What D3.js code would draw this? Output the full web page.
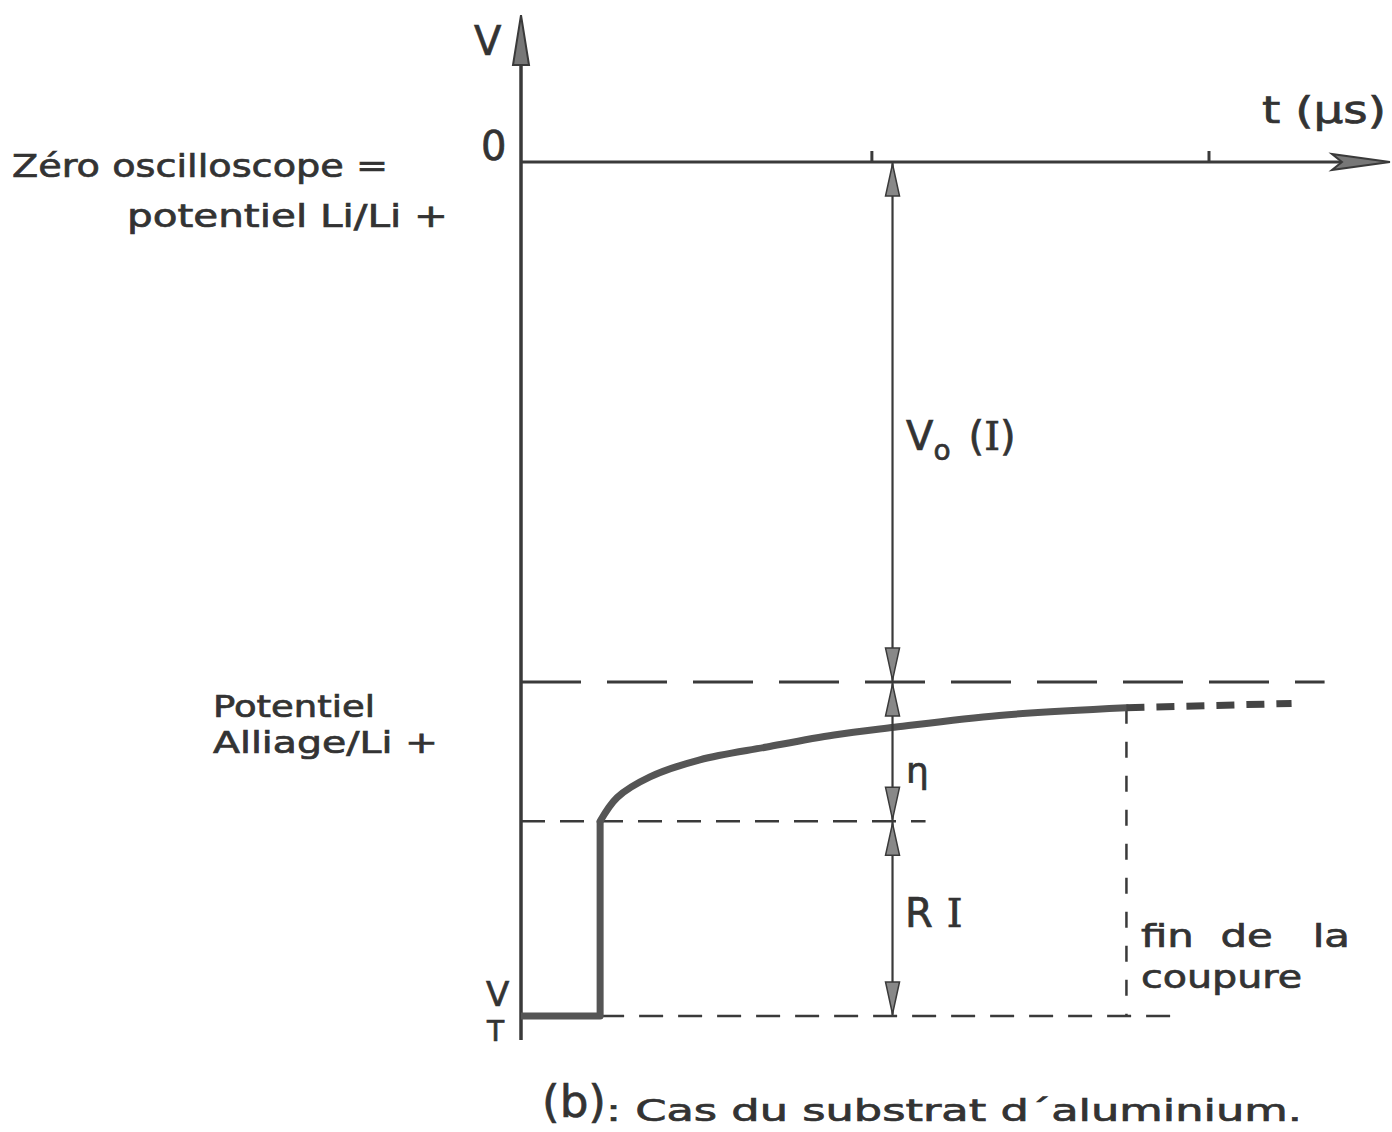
<!DOCTYPE html>
<html>
<head>
<meta charset="utf-8">
<script src="https://cdn.jsdelivr.net/npm/d3@7"></script>
<style>
  body { margin: 0; background: #fff; }
  svg text { font-family: "DejaVu Sans", sans-serif; fill: #333; stroke: #333; stroke-width: 0.7px; white-space: pre; }
</style>
</head>
<body>
<script>
// t in arbitrary units (ticks at 1 and 2), V normalised so that V_T = -1
var xTicks = [1.02, 2.0];
var stepT = [0, 0.23, 0.23];
var stepV = [-1, -1, -0.772];
var curveT = [0.23, 0.28, 0.375, 0.52, 0.715, 0.91, 1.085, 1.39, 1.76];
var curveV = [-0.772, -0.744, -0.72, -0.70, -0.685, -0.671, -0.662, -0.648, -0.639];
var tailT = [1.76, 2.24];
var tailV = [-0.639, -0.634];
var levelV0 = -0.609, levelRI = -0.772, levelVT = -1;
var tMeasure = 1.08, tCut = 1.76;

var width = 1392, height = 1132;
var x = d3.scaleLinear().domain([0, 1]).range([521, 865]);
var y = d3.scaleLinear().domain([0, -1]).range([162, 1016]);

var svg = d3.select("body").append("svg")
	.attr("width", width)
	.attr("height", height);

var ink = "#3a3a3a";

function zip(a, b) { return a.map(function(d, i) { return [d, b[i]]; }); }
var line = d3.line().x(function(d) { return x(d[0]); }).y(function(d) { return y(d[1]); });

// axes
svg.append("line").attr("x1", x(0)).attr("x2", x(0)).attr("y1", y(0.12)).attr("y2", y(-1.028))
	.attr("stroke", ink).attr("stroke-width", 3.5);
svg.append("line").attr("x1", x(0)).attr("x2", x(2.42)).attr("y1", y(0)).attr("y2", y(0))
	.attr("stroke", ink).attr("stroke-width", 3);
// y arrow head
svg.append("path")
	.attr("d", "M" + x(0) + "," + y(0.172) + " L" + (x(0) + 8) + "," + (y(0.172) + 50) + " L" + (x(0) - 8) + "," + (y(0.172) + 50) + "Z")
	.attr("fill", "#777").attr("stroke", ink).attr("stroke-width", 2);
// x arrow head
var xe = x(2.526);
svg.append("path")
	.attr("d", "M" + xe + "," + y(0) + " L" + (xe - 58) + "," + (y(0) - 8) + " L" + (xe - 48) + "," + y(0) + " L" + (xe - 58) + "," + (y(0) + 8) + "Z")
	.attr("fill", "#777").attr("stroke", ink).attr("stroke-width", 2);
// ticks
svg.selectAll(".tick").data(xTicks).enter().append("line")
	.attr("x1", function(d) { return x(d); }).attr("x2", function(d) { return x(d); })
	.attr("y1", y(0)).attr("y2", y(0) - 11)
	.attr("stroke", ink).attr("stroke-width", 3);

// dashed levels
svg.append("line").attr("x1", x(0)).attr("x2", x(2.336)).attr("y1", y(levelV0)).attr("y2", y(levelV0))
	.attr("stroke", ink).attr("stroke-width", 3).attr("stroke-dasharray", "60,26");
svg.append("line").attr("x1", x(0)).attr("x2", x(1.176)).attr("y1", y(levelRI)).attr("y2", y(levelRI))
	.attr("stroke", ink).attr("stroke-width", 2.5).attr("stroke-dasharray", "24,15");
svg.append("line").attr("x1", x(stepT[1])).attr("x2", x(1.927)).attr("y1", y(levelVT)).attr("y2", y(levelVT))
	.attr("stroke", ink).attr("stroke-width", 2.5).attr("stroke-dasharray", "24,15");
svg.append("line").attr("x1", x(tCut)).attr("x2", x(tCut)).attr("y1", y(tailV[0])).attr("y2", y(levelVT))
	.attr("stroke", ink).attr("stroke-width", 2.5).attr("stroke-dasharray", "16,18");

// potential trace
svg.append("path").attr("d", line(zip(stepT, stepV)))
	.attr("fill", "none").attr("stroke", "#555").attr("stroke-width", 7).attr("stroke-linejoin", "round");
svg.append("path").attr("d", line.curve(d3.curveCatmullRom.alpha(0.5))(zip(curveT, curveV)))
	.attr("fill", "none").attr("stroke", "#555").attr("stroke-width", 7).attr("stroke-linecap", "round");
svg.append("path").attr("d", line.curve(d3.curveLinear)(zip(tailT, tailV)))
	.attr("fill", "none").attr("stroke", "#444").attr("stroke-width", 7).attr("stroke-dasharray", "18,12");

// measurement line with arrows
var xm = x(tMeasure);
svg.append("line").attr("x1", xm).attr("x2", xm).attr("y1", y(0)).attr("y2", y(levelVT))
	.attr("stroke", ink).attr("stroke-width", 2.2);
var heads = [[0, -1], [levelV0, 1], [levelV0, -1], [levelRI, 1], [levelRI, -1], [levelVT, 1]];
svg.selectAll(".head").data(heads).enter().append("path")
	.attr("d", function(d) {
		var yy = y(d[0]) + (d[1] < 0 ? 2 : -2);
		var b = yy - d[1] * 32;
		return "M" + xm + "," + yy + " L" + (xm + 7) + "," + b + " L" + (xm - 7) + "," + b + "Z";
	})
	.attr("fill", "#888").attr("stroke", ink).attr("stroke-width", 1.5);

// labels
function label(txt, px, py, size, len) {
	var t = svg.append("text").attr("x", px).attr("y", py).attr("font-size", size).text(txt);
	if (len) t.attr("textLength", len).attr("lengthAdjust", "spacingAndGlyphs");
	return t;
}
label("V", 474, 55, 40);
label("0", 481, 160, 40);
label("Zéro oscilloscope =", 12, 177, 32, 376);
label("potentiel Li/Li +", 127, 227, 32, 321);
label("t (µs)", 1262, 123, 38, 124);
var v0 = svg.append("text").attr("x", 906).attr("y", 450).attr("font-size", 40);
v0.append("tspan").text("V");
v0.append("tspan").attr("font-size", 28).attr("dy", 10).text("o");
v0.append("tspan").attr("dy", -10).attr("dx", 18).text("(");
v0.append("tspan").attr("font-family", "DejaVu Serif").text("I");
v0.append("tspan").text(")");
label("Potentiel", 213, 717, 30, 162);
label("Alliage/Li +", 213, 753, 30, 225);
label("η", 906, 783, 36);
var ri = svg.append("text").attr("x", 905).attr("y", 927).attr("font-size", 40);
ri.append("tspan").text("R");
ri.append("tspan").attr("dx", 14).attr("font-family", "DejaVu Serif").text("I");
label("V", 486, 1006, 34);
label("T", 487, 1041, 28);
label("fin  de   la", 1141, 947, 32, 209);
label("coupure", 1141, 988, 32, 161);
label("(b)", 542, 1117, 44, 64);
label(": Cas du substrat d\u00b4aluminium.", 606, 1121, 30, 696);
</script>
</body>
</html>
